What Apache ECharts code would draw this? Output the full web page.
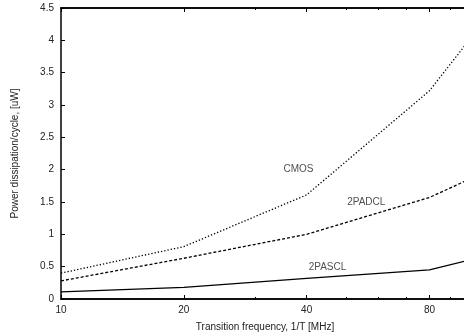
<!DOCTYPE html>
<html>
<head>
<meta charset="utf-8">
<script src="https://cdn.jsdelivr.net/npm/echarts@6/dist/echarts.min.js"></script>
<style>
  html, body { margin: 0; padding: 0; background: #fff; }
  #chart { width: 464px; height: 336px; }
</style>
</head>
<body>
<div id="chart"></div>
<script>
// transition frequency [MHz]
const freqs = [10, 20, 40, 80, 100];
const cmos = [0.4, 0.81, 1.61, 3.22, 4.0];
const padcl = [0.28, 0.63, 1.0, 1.57, 1.85];
const pascl = [0.11, 0.18, 0.32, 0.45, 0.6];

const majorTicks = [10, 20, 40, 80];
const minorTicks = [30, 50, 60, 70, 90];

// in-plot curve labels
const labelNames = ['CMOS', '2PADCL', '2PASCL'];
const labelFreq = [38.2, 56, 45];
const labelPower = [2.0, 1.5, 0.49];

const FONT = '"Liberation Sans", Arial, sans-serif';
const lg = v => Math.log10(v);
const pts = ys => freqs.map((f, i) => [lg(f), ys[i]]);

const chart = echarts.init(document.getElementById('chart'));

const axisLine = { show: true, onZero: false, lineStyle: { color: '#000', width: 1.5 } };

function xAxis(position, ticks, len, withLabels) {
    return {
        type: 'value',
        position: position,
        min: 1,
        max: 2,
        axisLine: axisLine,
        axisTick: { show: true, inside: true, length: len, customValues: ticks.map(lg), lineStyle: { color: '#000', width: 1 } },
        axisLabel: withLabels ? {
            show: true,
            customValues: majorTicks.map(lg),
            formatter: v => String(Math.round(Math.pow(10, v))),
            color: '#222',
            fontSize: 10,
            fontFamily: FONT,
            margin: 6
        } : { show: false },
        splitLine: { show: false },
        name: withLabels ? 'Transition frequency, 1/T [MHz]' : '',
        nameLocation: 'middle',
        nameGap: 23,
        nameTextStyle: { color: '#222', fontSize: 10, fontFamily: FONT }
    };
}

chart.setOption({
    animation: false,
    backgroundColor: '#fff',
    grid: { left: 61, right: -5, top: 8, bottom: 37, containLabel: false, outerBoundsMode: 'none' },
    xAxis: [
        xAxis('bottom', majorTicks, 4, true),
        xAxis('bottom', minorTicks, 2, false),
        xAxis('top', majorTicks, 4, false),
        xAxis('top', minorTicks, 2, false)
    ],
    yAxis: {
        type: 'value',
        min: 0,
        max: 4.5,
        interval: 0.5,
        axisLine: axisLine,
        axisTick: { show: true, inside: true, length: 4, lineStyle: { color: '#000' } },
        axisLabel: { color: '#222', fontSize: 10, fontFamily: FONT, margin: 7 },
        splitLine: { show: false },
        name: 'Power dissipation/cycle, [uW]',
        nameLocation: 'middle',
        nameGap: 41,
        nameTextStyle: { color: '#222', fontSize: 10, fontFamily: FONT }
    },
    series: [
        {
            name: 'CMOS', type: 'line', data: pts(cmos), symbol: 'none',
            lineStyle: { color: '#000', width: 1.3, type: [1.3, 2] }
        },
        {
            name: '2PADCL', type: 'line', data: pts(padcl), symbol: 'none',
            lineStyle: { color: '#000', width: 1.3, type: [3, 2] }
        },
        {
            name: '2PASCL', type: 'line', data: pts(pascl), symbol: 'none',
            lineStyle: { color: '#000', width: 1.3 }
        },
        {
            name: 'labels', type: 'scatter', symbolSize: 0,
            data: labelNames.map((n, i) => [lg(labelFreq[i]), labelPower[i], n]),
            label: {
                show: true, position: 'inside', formatter: p => p.data[2],
                color: '#222', fontSize: 10, fontFamily: FONT
            }
        }
    ]
});
</script>
</body>
</html>
